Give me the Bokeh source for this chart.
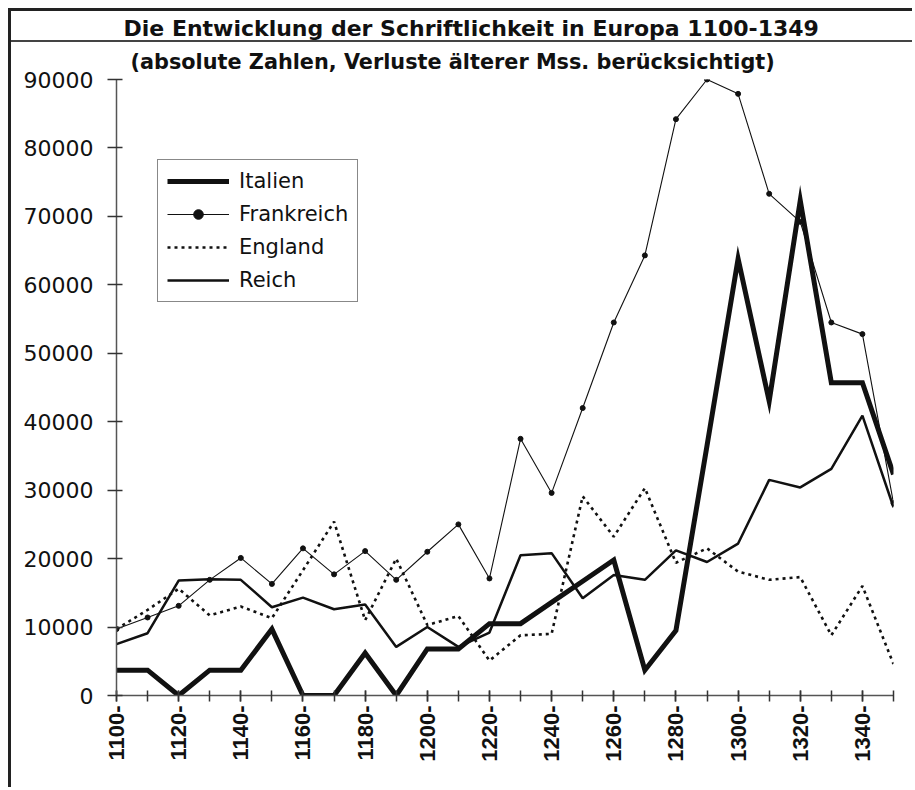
import math
from bokeh.plotting import figure
from bokeh.models import (Range1d, FixedTicker, NumeralTickFormatter, Legend, LegendItem, Title)
from bokeh.embed import file_html
from bokeh.resources import INLINE

# ---- data ----
years = [1100, 1110, 1120, 1130, 1140, 1150, 1160, 1170, 1180, 1190,
         1200, 1210, 1220, 1230, 1240, 1250, 1260, 1270, 1280, 1290,
         1300, 1310, 1320, 1330, 1340, 1350]
label_years = [1100, 1120, 1140, 1160, 1180, 1200, 1220, 1240, 1260, 1280, 1300, 1320, 1340]

italien = [3700, 3700, 0, 3700, 3700, 9700, 0, 0, 6200, 0,
           6800, 6800, 10500, 10500, 13600, 16700, 19800, 3700, 9500, 36500,
           63800, 43000, 72300, 45700, 45700, 32300]
frankreich = [9700, 11400, 13100, 16900, 20100, 16300, 21500, 17700, 21100, 16900,
              21000, 25000, 17100, 37500, 29600, 42000, 54500, 64300, 84200, 90000,
              87900, 73300, 69200, 54500, 52800, 28100]
england = [9700, 12500, 15600, 11700, 13000, 11300, 18300, 25400, 11000, 20000,
           10300, 11600, 5100, 8800, 9000, 29100, 23200, 30300, 19400, 21500,
           18100, 16900, 17300, 8800, 16000, 4600]
reich = [7500, 9100, 16800, 17000, 16900, 12900, 14300, 12600, 13300, 7100,
         10000, 7100, 9200, 20500, 20800, 14200, 17600, 16900, 21200, 19500,
         22200, 31500, 30400, 33100, 40900, 27500]

y_ticks = [0, 10000, 20000, 30000, 40000, 50000, 60000, 70000, 80000, 90000]

title_text = "Die Entwicklung der Schriftlichkeit in Europa  1100-1349"
subtitle_text = "(absolute Zahlen, Verluste älterer Mss. berücksichtigt)"

# host element: 8px offset + 3px sheet border, canvas starts at page (11, 11)
OFF = 11
W, H = 904, 779
ML = 116 - OFF
MT = 79 - OFF
MR = W - (893 - OFF)
MB = H - (695 - OFF)

ink = "#111111"

p = figure(width=W, height=H, output_backend="svg", toolbar_location=None,
           x_range=Range1d(1100, 1350), y_range=Range1d(0, 90000),
           min_border_left=ML, min_border_right=MR, min_border_top=MT, min_border_bottom=MB)
p.outline_line_color = None
p.xgrid.visible = False
p.ygrid.visible = False
p.background_fill_color = "white"
p.border_fill_alpha = 0.0
p.styles = {
    "margin-left": "8px",
    "margin-top": "8px",
    "border-left": "3px solid #222222",
    "border-top": "3px solid #222222",
    "background": "linear-gradient(#444444, #444444) 0px 29px / 100% 2px no-repeat, white",
}

r_en = p.line(years, england, line_color=ink, line_width=2.6, line_dash="3 4")
r_re = p.line(years, reich, line_color=ink, line_width=2.5)
r_fr = p.line(years, frankreich, line_color=ink, line_width=1.1)
r_frp = p.scatter(years, frankreich, size=5, marker="circle", fill_color=ink, line_color=ink)
r_it = p.line(years, italien, line_color=ink, line_width=5, line_join="miter")

# ---- titles (first added sits next to the frame) ----
p.add_layout(Title(text=subtitle_text, align="left", offset=14, standoff=12,
                   text_font="DejaVu Sans", text_font_style="bold", text_font_size="20.8px",
                   text_color=ink), "above")
p.add_layout(Title(text=title_text, align="left", offset=7, standoff=0,
                   vertical_align="middle",
                   text_font="DejaVu Sans", text_font_style="bold", text_font_size="22px",
                   text_color=ink), "above")

# ---- axes ----
xa = p.xaxis[0]
xa.ticker = FixedTicker(ticks=label_years, minor_ticks=years)
xa.major_label_overrides = {y: f"{y}-" for y in label_years}
xa.major_label_orientation = math.pi / 2
xa.major_label_text_font = "Liberation Sans"
xa.major_label_text_font_style = "bold"
xa.major_label_text_font_size = "22px"
xa.major_label_text_color = ink
xa.major_label_standoff = 4
xa.axis_line_color = "#555555"
xa.axis_line_width = 1.5
xa.major_tick_line_color = "#333333"
xa.minor_tick_line_color = "#333333"
xa.major_tick_line_width = 1.5
xa.minor_tick_line_width = 1.5
xa.major_tick_in = 5
xa.major_tick_out = 6
xa.minor_tick_in = 5
xa.minor_tick_out = 6

ya = p.yaxis[0]
ya.ticker = FixedTicker(ticks=y_ticks, minor_ticks=[])
ya.formatter = NumeralTickFormatter(format="0")
ya.major_label_text_font = "DejaVu Sans"
ya.major_label_text_font_size = "22px"
ya.major_label_text_color = ink
ya.major_label_standoff = 14
ya.axis_line_color = "#555555"
ya.axis_line_width = 1.5
ya.major_tick_line_color = "#333333"
ya.major_tick_line_width = 1.5
ya.major_tick_in = 6
ya.major_tick_out = 9

# ---- legend ----
legend = Legend(items=[
    LegendItem(label="Italien", renderers=[r_it]),
    LegendItem(label="Frankreich", renderers=[r_fr, r_frp]),
    LegendItem(label="England", renderers=[r_en]),
    LegendItem(label="Reich", renderers=[r_re]),
], location=(41, 393))
legend.label_text_font = "DejaVu Sans"
legend.label_text_font_size = "21px"
legend.label_text_color = ink
legend.glyph_width = 62
legend.glyph_height = 24
legend.label_height = 24
legend.label_standoff = 10
legend.spacing = 9
legend.padding = 9
legend.margin = 0
legend.border_line_color = ink
legend.border_line_width = 1.5
legend.background_fill_color = "white"
legend.background_fill_alpha = 1.0
p.add_layout(legend, "center")

open("out.html", "w").write(file_html(p, INLINE))
